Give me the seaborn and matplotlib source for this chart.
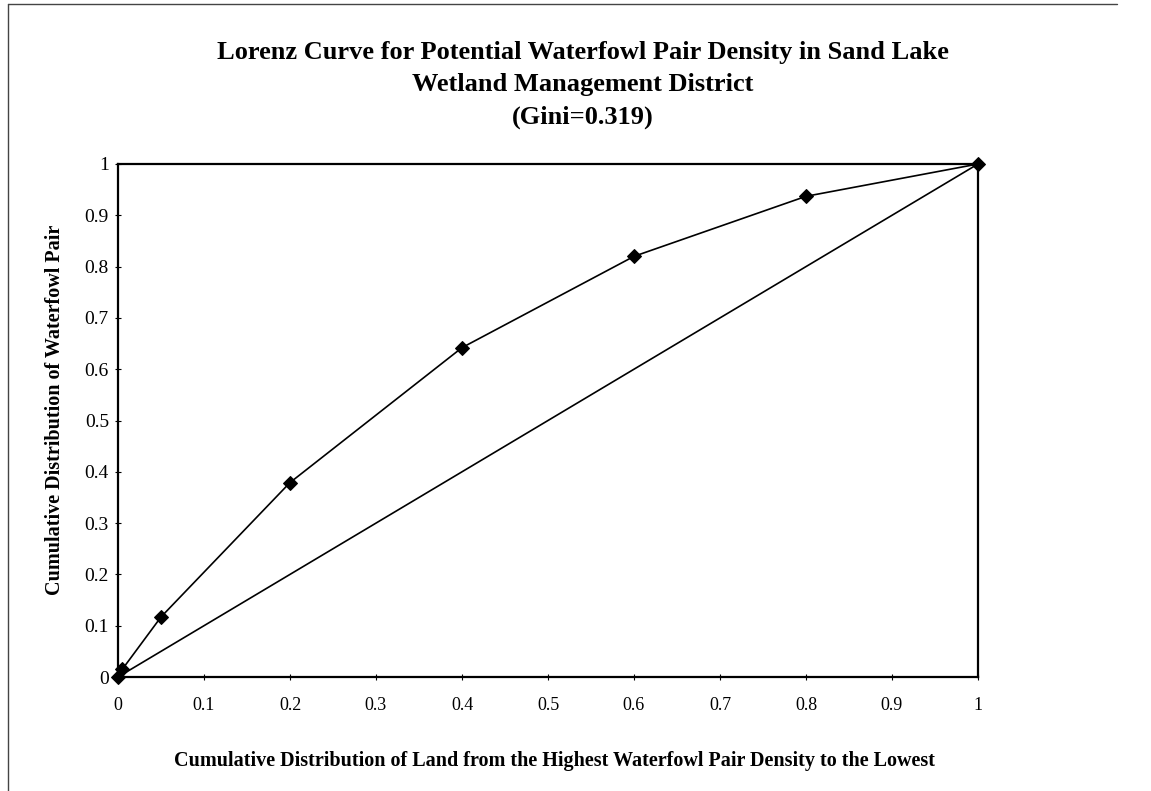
import matplotlib
matplotlib.use("Agg")
import matplotlib.pyplot as plt
from matplotlib.lines import Line2D
from matplotlib.ticker import FuncFormatter
import seaborn as sns
import pandas as pd

# ---- data ----
land_share = [0.0, 0.005, 0.05, 0.2, 0.4, 0.6, 0.8, 1.0]
pair_share = [0.0, 0.015, 0.117, 0.379, 0.642, 0.82, 0.937, 1.0]
equality_x = [0.0, 1.0]
equality_y = [0.0, 1.0]
tick_values = [0, 0.1, 0.2, 0.3, 0.4, 0.5, 0.6, 0.7, 0.8, 0.9, 1]

title_text = ("Lorenz Curve for Potential Waterfowl Pair Density in Sand Lake\n"
              "Wetland Management District\n(Gini=0.319)")
x_label = "Cumulative Distribution of Land from the Highest Waterfowl Pair Density to the Lowest"
y_label = "Cumulative Distribution of Waterfowl Pair"

sns.set_theme(style="white")
plt.rcParams['font.family'] = ['Liberation Serif', 'DejaVu Serif']

W, H = 1151, 791
fig = plt.figure(figsize=(W / 100, H / 100), dpi=100)
left, right, top, bottom = 118, 978, 164, 677
ax = fig.add_axes([left / W, 1 - bottom / H, (right - left) / W, (bottom - top) / H])

lorenz = pd.DataFrame({"land": land_share, "pairs": pair_share})
equal = pd.DataFrame({"land": equality_x, "pairs": equality_y})

sns.lineplot(data=equal, x="land", y="pairs", ax=ax, color="black",
             linewidth=1.2, sort=False)
sns.lineplot(data=lorenz, x="land", y="pairs", ax=ax, color="black",
             linewidth=1.2, marker="D", markersize=7, markeredgecolor="black",
             markerfacecolor="black", sort=False, clip_on=False, zorder=5)

ax.set_xlim(0, 1)
ax.set_ylim(0, 1)
ax.set_xticks(tick_values)
ax.set_yticks(tick_values)
fmt = FuncFormatter(lambda v, p: f"{v:g}")
ax.xaxis.set_major_formatter(fmt)
ax.yaxis.set_major_formatter(fmt)
ax.tick_params(axis="both", direction="inout", length=5, width=0.8,
               color="black", labelcolor="black")
ax.tick_params(axis="x", pad=12, bottom=True, labelsize=13)
ax.tick_params(axis="y", pad=4, left=True, labelsize=14)
for s in ax.spines.values():
    s.set_color("black")
    s.set_linewidth(1.6)
    s.set_visible(True)

ax.set_xlabel(x_label, fontsize=14.5, fontweight="bold", color="black")
ax.set_ylabel(y_label, fontsize=14.5, fontweight="bold", color="black")
ax.xaxis.set_label_coords(0.507, -0.145)
ax.yaxis.set_label_coords(-0.062, 0.52)

fig.text(583 / W, 1 - 85 / H, title_text, ha="center", va="center",
         fontsize=19, fontweight="bold", linespacing=1.5, color="black")

# scanned-page frame lines (top and left)
fig.add_artist(Line2D([8 / W, 1117 / W], [1 - 4 / H, 1 - 4 / H],
                      transform=fig.transFigure, color="#444444", linewidth=1.0))
fig.add_artist(Line2D([8 / W, 8 / W], [1 - 4 / H, 0], transform=fig.transFigure,
                      color="#444444", linewidth=1.0))

fig.savefig("out.png", dpi=100, facecolor="white")
